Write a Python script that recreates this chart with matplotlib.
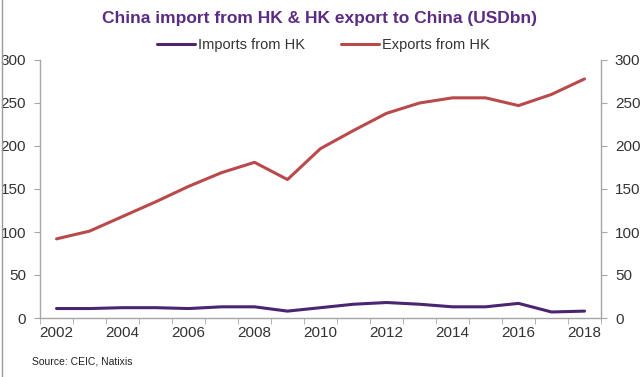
import matplotlib
matplotlib.use("Agg")
import matplotlib.pyplot as plt
import numpy as np

years = list(range(2002, 2019))
imports_hk = [11, 11, 12, 12, 11, 13, 13, 8, 12, 16, 18, 16, 13, 13, 17, 7, 8]
exports_hk = [92, 101, 118, 135, 153, 169, 181, 161, 197, 218, 238, 250, 256, 256, 247, 260, 278]
yticks = [0, 50, 100, 150, 200, 250, 300]

plt.rcParams['font.family'] = ['Liberation Sans', 'DejaVu Sans']

fig = plt.figure(figsize=(6.4, 3.77), dpi=100)
ax = fig.add_axes([40/640, 59/377, 561/640, 258/377])

x = np.arange(len(years))
ax.plot(x, imports_hk, color='#4B2472', lw=2.2, label='Imports from HK', solid_capstyle='round')
ax.plot(x, exports_hk, color='#B9494B', lw=2.2, label='Exports from HK', solid_capstyle='round')

ax.set_xlim(-0.5, len(years) - 0.5)
ax.set_ylim(0, 300)
spine_c = '#A6A6A6'
for s in ['top']:
    ax.spines[s].set_visible(False)
for s in ['left', 'right', 'bottom']:
    ax.spines[s].set_color(spine_c)
    ax.spines[s].set_linewidth(1.0)

ax.set_yticks(yticks)
ax.tick_params(axis='y', which='both', left=True, right=True, labelleft=True, labelright=True,
               direction='out', length=4, color=spine_c, labelsize=11, labelcolor='#333333', pad=6)
# x: minor ticks at boundaries, labels every other year
ax.set_xticks(np.arange(-0.5, len(years), 1.0), minor=True)
ax.set_xticks(x[::2])
ax.set_xticklabels([str(y) for y in years[::2]])
ax.tick_params(axis='x', which='major', length=0, labelsize=11, labelcolor='#333333', pad=6)
ax.tick_params(axis='x', which='minor', length=4, direction='out', color=spine_c)

fig.text(0.5, 1 - 18/377, 'China import from HK & HK export to China (USDbn)',
         ha='center', va='center', fontsize=12.5, fontweight='bold', color='#5B2C83')
leg = fig.legend(loc='center', bbox_to_anchor=(0.505, 1 - 45/377), ncol=2, frameon=False,
                 fontsize=10.5, handlelength=2.6, handletextpad=0.2, columnspacing=2.5,
                 labelcolor='#333333')
fig.text(32/640, 1 - 362/377, 'Source: CEIC, Natixis', ha='left', va='center', fontsize=7.5, color='#222222')

fig.add_artist(plt.Line2D([1.5/640, 1.5/640], [0, 1], transform=fig.transFigure, color='#999999', lw=1))

fig.savefig('out.png', dpi=100)
